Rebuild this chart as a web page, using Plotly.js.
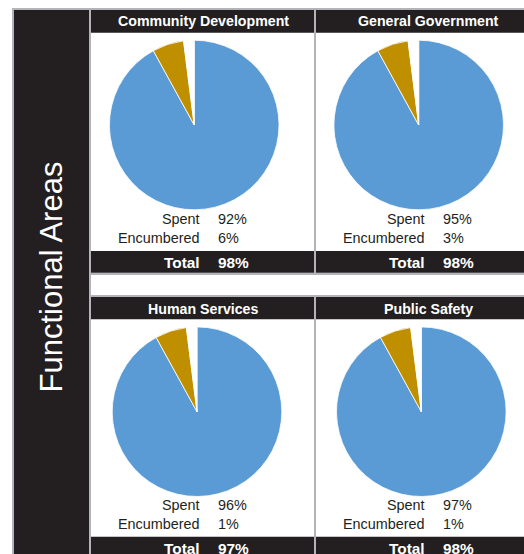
<!DOCTYPE html>
<html><head><meta charset="utf-8">
<script src="https://cdn.plot.ly/plotly-3.0.1.min.js"></script>
<style>html,body{margin:0;padding:0;background:#fff;overflow:hidden;} #chart{width:524px;height:554px;}</style>
</head><body><div id="chart"></div>
<script>
// ---- data ----
const areas = ["Community Development", "General Government", "Human Services", "Public Safety"];
const spentPct = [92, 95, 96, 97];
const encumberedPct = [6, 3, 1, 1];
const totalPct = [98, 98, 97, 98];
// pie slice shares as drawn in the picture
const pieSpent = [92, 92, 92, 92];
const pieEncumbered = [6, 6, 6, 6];
const pieRemaining = [2, 2, 2, 2];
const sliceLabels = ["Spent", "Encumbered", "Remaining"];
const rowLabels = ["Spent", "Encumbered", "Total"];
const sideTitle = "Functional Areas";

// ---- layout helpers ----
const W = 524, H = 554;
const FONT = "Liberation Sans, Arial, sans-serif";
const GRAY = "#b3b3b9", BLACK = "#231f20", BLUE = "#5b9bd5", GOLD = "#bf8f00", TXT = "#231f20";
const px = x => x / W, py = y => 1 - y / H;

const cols = [{x0: 91, x1: 314}, {x0: 316, x1: 539}];
const rows = [
  {hd0: 10, hd1: 32.7, hdY: 21.5, cy: 125, spY: 219, enY: 238, tb0: 251, tb1: 272.7, tY: 262.5, y1: 272.7},
  {hd0: 297, hd1: 319.3, hdY: 308.5, cy: 411.7, spY: 504.7, enY: 524, tb0: 536.7, tb1: 562, tY: 548.5, y1: 562}
];
const pieDx = [[103.2, 102.7], [106, 105.3]];
const R = 84.8;

const shapes = [];
function rect(x0, y0, x1, y1, color) {
  shapes.push({type: "rect", xref: "paper", yref: "paper", layer: "below",
    x0: px(x0), x1: px(x1), y0: py(y1), y1: py(y0),
    fillcolor: color, line: {width: 0}});
}
const annotations = [];
function ann(text, x, y, xanchor, size, color, bold, extra) {
  annotations.push(Object.assign({
    text: bold ? "<b>" + text + "</b>" : text,
    xref: "paper", yref: "paper", x: px(x), y: py(y),
    xanchor: xanchor, yanchor: "middle", showarrow: false,
    borderpad: 0, borderwidth: 0,
    font: {family: FONT, size: size, color: color}
  }, extra || {}));
}

// frame
rect(12, 8, 560, 580, GRAY);
rect(14, 10, 89, 580, BLACK);
// gap between rows
rect(91, 275, 560, 295, "#ffffff");

const traces = [];
for (let i = 0; i < areas.length; i++) {
  const r = Math.floor(i / 2), c = i % 2;
  const col = cols[c], row = rows[r];
  // panel white body
  rect(col.x0, row.hd0, col.x1, row.y1, "#ffffff");
  // header and total bars
  rect(col.x0, row.hd0, col.x1, row.hd1, BLACK);
  rect(col.x0, row.tb0, col.x1, row.tb1, BLACK);

  const cx = col.x0 + pieDx[r][c], cy = row.cy;
  traces.push({
    type: "pie",
    values: [pieSpent[i], pieEncumbered[i], pieRemaining[i]],
    labels: sliceLabels,
    sort: false, direction: "clockwise", rotation: 0,
    textinfo: "none", hoverinfo: "none", showlegend: false,
    marker: {colors: [BLUE, GOLD, "#ffffff"], line: {color: "#ffffff", width: 0.8}},
    domain: {x: [px(cx - R), px(cx + R)], y: [py(cy + R), py(cy - R)]}
  });

  const mid = (col.x0 + col.x1) / 2 + 1;
  ann(areas[i], mid, row.hdY, "center", 14.2, "#ffffff", true);
  const lx = col.x0 + 108.5, vx = col.x0 + 126.5;
  ann(rowLabels[0], lx, row.spY, "right", 14.4, TXT, false);
  ann(spentPct[i] + "%", vx, row.spY, "left", 14.4, TXT, false);
  ann(rowLabels[1], lx, row.enY, "right", 14.4, TXT, false);
  ann(encumberedPct[i] + "%", vx, row.enY, "left", 14.4, TXT, false);
  ann(rowLabels[2], lx, row.tY, "right", 15.4, "#ffffff", true);
  ann(totalPct[i] + "%", vx, row.tY, "left", 15.4, "#ffffff", true);
}

ann(sideTitle, 51, 277.5, "center", 31, "#ffffff", false, {textangle: -90});

const layout = {
  width: W, height: H,
  margin: {l: 0, r: 0, t: 0, b: 0, pad: 0},
  paper_bgcolor: "#ffffff", plot_bgcolor: "#ffffff",
  showlegend: false,
  shapes: shapes, annotations: annotations
};
Plotly.newPlot("chart", traces, layout, {displayModeBar: false, staticPlot: true});
</script>
</body></html>
